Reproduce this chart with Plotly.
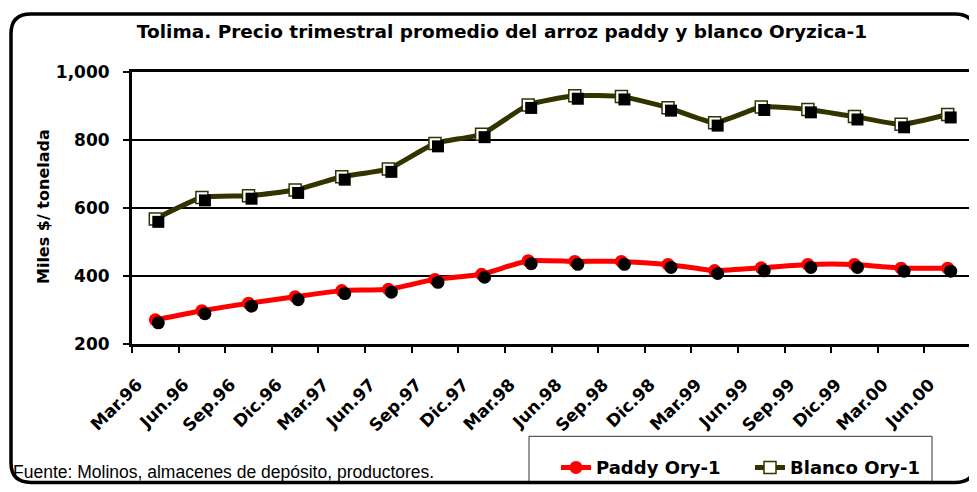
import plotly.graph_objects as go

# trimestres
periodos = ["Mar.96", "Jun.96", "Sep.96", "Dic.96", "Mar.97", "Jun.97", "Sep.97", "Dic.97",
            "Mar.98", "Jun.98", "Sep.98", "Dic.98", "Mar.99", "Jun.99", "Sep.99", "Dic.99",
            "Mar.00", "Jun.00"]

# miles $ / tonelada
paddy = [271, 298, 320, 339, 357, 361, 390, 405, 445, 443, 443, 434, 416, 424, 434, 434, 423, 423]
blanco = [568, 631, 636, 653, 692, 715, 790, 817, 903, 930, 928, 895, 851, 897, 890, 869, 846, 875]

# la pagina tiene 8px de margen en el body, todo se mide en pixeles de ventana
OFF = 8
W, H = 977 - OFF, 492 - OFF
PLOT_L, PLOT_R, PLOT_T, PLOT_B = 132, 971, 72, 349
L, R, T, B = PLOT_L - OFF, W - (PLOT_R - OFF), PLOT_T - OFF, H - (PLOT_B - OFF)
PW, PH = W - L - R, H - T - B
Y_RANGE = [200, 1000]
SHADOW_PX = 3

BOLD = "DejaVu Sans, Arial, sans-serif"


def fx(px):
    return (px - PLOT_L) / PW


def fy(py):
    return (PLOT_B - py) / PH


fig = go.Figure()

# sombras de los marcadores (ejes desplazados unos pixeles)
dx = SHADOW_PX * len(periodos) / PW
dy = SHADOW_PX * (Y_RANGE[1] - Y_RANGE[0]) / PH
fig.add_trace(go.Scatter(x=periodos, y=paddy, mode="markers", xaxis="x2", yaxis="y2",
                         marker=dict(symbol="circle", size=13, color="black"),
                         showlegend=False, hoverinfo="skip"))
fig.add_trace(go.Scatter(x=periodos, y=blanco, mode="markers", xaxis="x2", yaxis="y2",
                         marker=dict(symbol="square", size=12, color="black"),
                         showlegend=False, hoverinfo="skip"))

fig.add_trace(go.Scatter(x=periodos, y=paddy, name="Paddy Ory-1", mode="lines+markers",
                         line=dict(color="#FF0000", width=5, shape="spline", smoothing=0.5),
                         marker=dict(symbol="circle", size=13, color="#FF0000"),
                         legend="legend"))
fig.add_trace(go.Scatter(x=periodos, y=blanco, name="Blanco Ory-1", mode="lines+markers",
                         line=dict(color="#333300", width=5, shape="spline", smoothing=0.5),
                         marker=dict(symbol="square", size=12, color="white",
                                     line=dict(color="#333300", width=1.5)),
                         legend="legend2"))

legend_font = dict(family=BOLD, size=18, weight="bold", color="black")

fig.update_layout(
    width=W, height=H,
    margin=dict(l=L, r=R, t=T, b=B),
    paper_bgcolor="white", plot_bgcolor="white",
    font=dict(family=BOLD, color="black"),
    title=dict(text="Tolima. Precio trimestral promedio del arroz paddy y blanco Oryzica-1",
               x=(502 - OFF) / W, xref="container", xanchor="center",
               y=1 - (32 - OFF) / H, yref="container", yanchor="middle",
               font=dict(family=BOLD, size=18.5, weight="bold", color="black")),
    xaxis=dict(type="category", range=[-0.5, len(periodos) - 0.5], automargin=False,
               showline=True, linewidth=3, linecolor="black", mirror=True,
               showgrid=False, ticks="outside", ticklen=6, tickwidth=1.5, tickcolor="black",
               tickson="boundaries", tickangle=-45, ticklabelstandoff=21, ticklabelshift=-18,
               tickfont=dict(family=BOLD, size=17, weight="bold", color="black")),
    yaxis=dict(range=Y_RANGE, dtick=200, tickformat=",d", automargin=False,
               showline=True, linewidth=3, linecolor="black", mirror=True,
               showgrid=True, gridcolor="black", gridwidth=1.5,
               ticks="outside", ticklen=6, tickwidth=1.5, tickcolor="black",
               ticklabelstandoff=10,
               tickfont=dict(family=BOLD, size=17, weight="bold", color="black")),
    xaxis2=dict(type="category", overlaying="x", range=[-0.5 - dx, len(periodos) - 0.5 - dx],
                visible=False),
    yaxis2=dict(overlaying="y", range=[Y_RANGE[0] + dy, Y_RANGE[1] + dy], visible=False),
    legend=dict(orientation="h", x=fx(556), xanchor="left", y=fy(475), yanchor="middle",
                bgcolor="rgba(0,0,0,0)", borderwidth=0, font=legend_font),
    legend2=dict(orientation="h", x=fx(750), xanchor="left", y=fy(475), yanchor="middle",
                 bgcolor="rgba(0,0,0,0)", borderwidth=0, font=legend_font),
    showlegend=True,
)

fig.add_annotation(text="Miles $/ tonelada", textangle=-90, xref="paper", yref="paper",
                   x=fx(32), y=fy(209), showarrow=False,
                   font=dict(family=BOLD, size=16, weight="bold", color="black"))
fig.add_annotation(text="Fuente: Molinos, almacenes de depósito, productores.",
                   xref="paper", yref="paper", x=fx(11), y=fy(479), xanchor="left",
                   yanchor="middle", showarrow=False,
                   font=dict(family="Liberation Sans, Arial, sans-serif", size=17.5, color="black"))

# caja de la leyenda
fig.add_shape(type="rect", xref="paper", yref="paper",
              x0=fx(529), x1=fx(932), y0=fy(443), y1=fy(490),
              line=dict(color="#333333", width=1), fillcolor="white", layer="below")

# marco redondeado exterior
fl, fr, ft, fb, rad = 11, 975, 13, 490, 20
path = (f"M {fx(fl + rad)},{fy(ft)} L {fx(fr - rad)},{fy(ft)} "
        f"Q {fx(fr)},{fy(ft)} {fx(fr)},{fy(ft + rad)} L {fx(fr)},{fy(fb - rad)} "
        f"Q {fx(fr)},{fy(fb)} {fx(fr - rad)},{fy(fb)} L {fx(fl + rad)},{fy(fb)} "
        f"Q {fx(fl)},{fy(fb)} {fx(fl)},{fy(fb - rad)} L {fx(fl)},{fy(ft + rad)} "
        f"Q {fx(fl)},{fy(ft)} {fx(fl + rad)},{fy(ft)} Z")
fig.add_shape(type="path", path=path, xref="paper", yref="paper",
              line=dict(color="black", width=3.5), layer="below")

fig.write_html("out.html")
